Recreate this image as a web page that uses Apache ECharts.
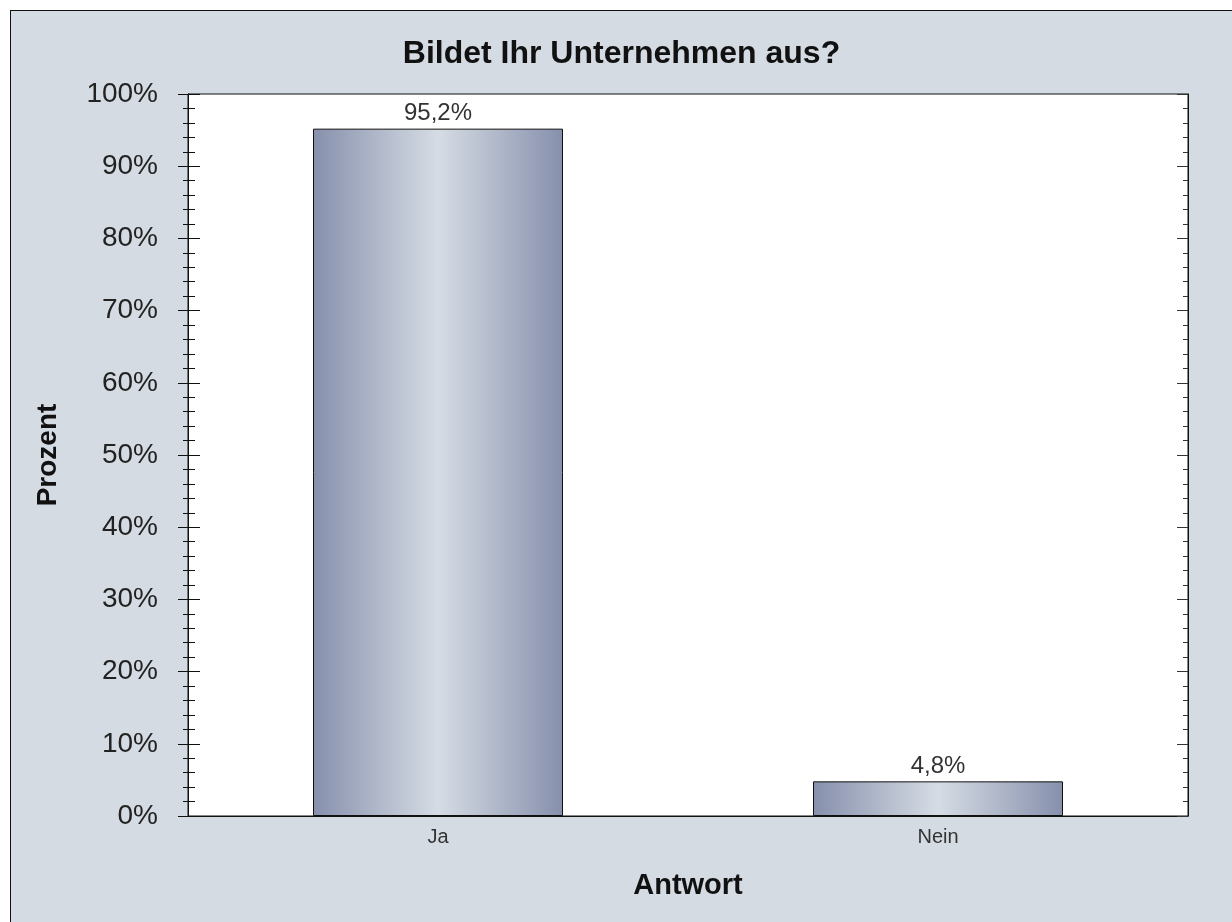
<!DOCTYPE html>
<html>
<head>
<meta charset="utf-8">
<title>Bildet Ihr Unternehmen aus?</title>
<script src="https://cdn.jsdelivr.net/npm/echarts@6/dist/echarts.min.js"></script>
<style>
  html, body {
    margin: 0;
    padding: 0;
    background: #fff;
    overflow: hidden;
  }
  .frame {
    position: absolute;
    left: 10px;
    top: 10px;
    width: 1230px;
    height: 920px;
    border: 1px solid #111;
    background: #d4dbe3;
  }
  #chart {
    width: 1221px;
    height: 911px;
  }
</style>
</head>
<body>
<div class="frame"><div id="chart"></div></div>
<script>
// Daten
const categories = ['Ja', 'Nein']
const percentValues = [95.2, 4.8]
const yTicks = { min: 0, max: 100, interval: 10 }

const fontFamily = '"Liberation Sans", Arial, sans-serif'

// Balken-Verlauf (dunkel am Rand, hell in der Mitte)
const barGradient = {
  type: 'linear',
  x: 0,
  y: 0,
  x2: 1,
  y2: 0,
  colorStops: [
    { offset: 0, color: '#8690ac' },
    { offset: 0.5, color: '#d6dce4' },
    { offset: 1, color: '#8690ac' },
  ],
}

// gemeinsame Einstellungen der drei y-Achsen (links aussen, links innen, rechts innen)
const baseY = {
  type: 'value',
  min: yTicks.min,
  max: yTicks.max,
  interval: yTicks.interval,
  splitLine: { show: false },
  axisLine: { show: true, lineStyle: { color: '#111', width: 1 } },
  minorTick: { show: true, splitNumber: 5 },
}

const myChart = echarts.init(document.getElementById('chart'))

const option = {
  animation: false,
  textStyle: { fontFamily: fontFamily },
  title: {
    text: 'Bildet Ihr Unternehmen aus?',
    left: 'center',
    top: 22,
    textStyle: {
      fontFamily: fontFamily,
      fontSize: 32,
      fontWeight: 'bold',
      color: '#111',
    },
  },
  grid: {
    left: 177,
    top: 83,
    right: 44,
    bottom: 106,
    show: true,
    backgroundColor: '#fff',
    borderColor: '#111',
    borderWidth: 1,
  },
  xAxis: {
    type: 'category',
    data: categories,
    name: 'Antwort',
    nameLocation: 'middle',
    nameGap: 55,
    nameTextStyle: {
      fontFamily: fontFamily,
      fontSize: 29,
      fontWeight: 'bold',
      color: '#111',
    },
    axisLine: { lineStyle: { color: '#111', width: 1 } },
    axisTick: { show: false },
    axisLabel: {
      margin: 11,
      fontSize: 20,
      color: '#333',
      fontFamily: fontFamily,
    },
  },
  yAxis: [
    {
      ...baseY,
      position: 'left',
      name: 'Prozent',
      nameLocation: 'middle',
      nameRotate: 90,
      nameGap: 126,
      nameTextStyle: {
        fontFamily: fontFamily,
        fontSize: 28,
        fontWeight: 'bold',
        color: '#111',
      },
      axisTick: { show: true, inside: false, length: 10, lineStyle: { color: '#111' } },
      minorTick: { show: true, splitNumber: 5, length: 5, lineStyle: { color: '#111' } },
      axisLabel: {
        margin: 30,
        fontSize: 28,
        color: '#222',
        fontFamily: fontFamily,
        formatter: '{value}%',
      },
    },
    {
      ...baseY,
      position: 'left',
      axisTick: { show: true, inside: true, length: 12, lineStyle: { color: '#111' } },
      minorTick: { show: true, splitNumber: 5, length: 7, lineStyle: { color: '#111' } },
      axisLabel: { show: false },
    },
    {
      ...baseY,
      position: 'right',
      axisTick: { show: true, inside: true, length: 11, lineStyle: { color: '#333' } },
      minorTick: { show: true, splitNumber: 5, length: 5, lineStyle: { color: '#333' } },
      axisLabel: { show: false },
    },
  ],
  series: [
    {
      type: 'bar',
      yAxisIndex: 0,
      data: percentValues,
      barWidth: '50%',
      itemStyle: {
        color: barGradient,
        borderColor: '#111',
        borderWidth: 1,
      },
      label: {
        show: true,
        position: 'top',
        distance: 3,
        fontFamily: fontFamily,
        fontSize: 24,
        color: '#333',
        formatter: (p) => String(p.value).replace('.', ',') + '%',
      },
    },
  ],
}

myChart.setOption(option)
</script>
</body>
</html>
